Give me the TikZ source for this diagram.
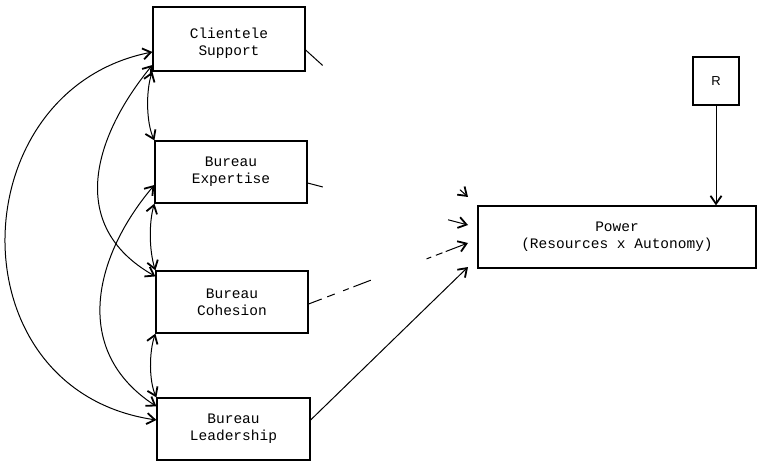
\documentclass[tikz,border=0pt]{standalone}
\usepackage{fontspec}
\setmainfont{Liberation Mono}
\newfontfamily\rfont{Liberation Sans}
\usetikzlibrary{arrows.meta,calc}
\begin{document}
\begin{tikzpicture}[x=1pt,y=1pt,
  box/.style={draw, line width=1.2pt, align=center, inner sep=0pt,
    font=\fontsize{14.5}{17}\selectfont},
  tip/.tip={Straight Barb[length=8pt,width=11pt,line width=1.8pt]},
  link/.style={line width=1pt, tip-tip},
  into/.style={line width=1pt, -tip},
  plain/.style={line width=1pt}]
\useasboundingbox (0,0) rectangle (759,-462);
% boxes
\node[box, minimum width=152pt, minimum height=64pt] (cs) at (229,-39)
  {\raisebox{-5pt}[\height][\depth]{\begin{tabular}{@{}c@{}}Clientele\\Support\end{tabular}}};
\node[box, minimum width=152pt, minimum height=62pt] (be) at (231,-172) {Bureau\\Expertise};
\node[box, minimum width=152pt, minimum height=62pt] (bc) at (232,-302) {Bureau\\Cohesion};
\node[box, minimum width=153pt, minimum height=62pt] (bl) at (233.5,-429) {Bureau\\Leadership};
\node[box, minimum width=278pt, minimum height=62pt] (pw) at (617,-237) {Power\\(Resources x Autonomy)};
\node[box, minimum width=46pt, minimum height=48pt, font=\rfont\fontsize{13}{15}\selectfont] (r) at (716,-81) {R};
% left-side correlations
\draw[link] ($(cs.west)+(0,-13)$) .. controls (-40,-90) and (-48,-390) .. ($(bl.west)+(0,9)$);
\draw[link] ($(cs.west)+(0,-26)$) .. controls (95,-135) and (65,-225) .. ($(bc.north west)+(0,-6)$);
\draw[link] ($(be.west)+(0,-13)$) .. controls (95,-255) and (70,-350) .. ($(bl.north west)+(0,-9)$);
\draw[link] (cs.south west) .. controls (146,-90) and (146,-122) .. (be.north west);
\draw[link] (be.south west) .. controls (149,-222) and (149,-250) .. (bc.north west);
\draw[link] (bc.south west) .. controls (149,-352) and (149,-381) .. (bl.north west);
% paths into Power
\coordinate (t1) at (468,-197);
\coordinate (t2) at (468,-225);
\coordinate (t3) at (468,-243);
\coordinate (t4) at (468,-267);
\coordinate (a1) at ($(cs.east)+(0,-11)$);
\coordinate (a2) at ($(be.east)+(0,-11)$);
\coordinate (a3) at ($(bc.east)+(0,-2)$);
\coordinate (a4) at ($(bl.east)+(0,9)$);
\draw[plain] (a1) -- ($(a1)!0.105!(t1)$);
\draw[into] ($(a1)!0.95!(t1)$) -- (t1);
\draw[plain] (a2) -- ($(a2)!0.095!(t2)$);
\draw[into] ($(a2)!0.876!(t2)$) -- (t2);
\draw[plain, dash pattern=on 14pt off 6pt on 8pt off 9pt on 6pt off 5pt on 20pt] (a3) -- ($(a3)!0.39!(t3)$);
\draw[plain, dash pattern=on 5pt off 5pt on 7pt off 4pt] ($(a3)!0.74!(t3)$) -- ($(a3)!0.86!(t3)$);
\draw[into] ($(a3)!0.86!(t3)$) -- (t3);
\draw[into] (a4) -- (t4);
\draw[into] (r.south) -- (r.south |- pw.north);
\end{tikzpicture}
\end{document}
